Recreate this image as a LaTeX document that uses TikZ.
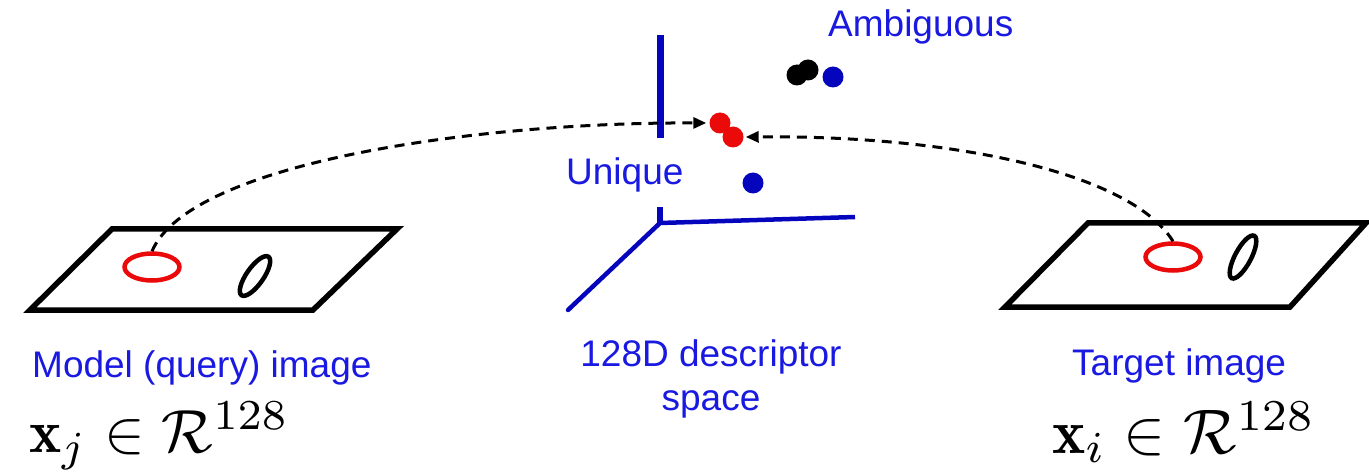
\documentclass[tikz,border=0pt]{standalone}
\usepackage{graphicx}
\usepackage{fontspec}
\setsansfont{Liberation Sans}
\usetikzlibrary{arrows.meta,shapes.geometric}
\definecolor{lblblue}{RGB}{25,25,225}
\definecolor{axblue}{RGB}{5,5,190}
\definecolor{dotred}{RGB}{235,10,10}
\tikzset{
  lbl/.style={text=lblblue,font=\sffamily\fontsize{37}{40}\selectfont,inner sep=0pt},
  plane/.style={draw=black,line width=5.5pt,line join=miter},
  feat/.style={ellipse,draw=dotred,line width=4.5pt,minimum width=55pt,minimum height=27pt,inner sep=0pt},
  digit/.style={draw=black,line width=4.5pt},
  axis/.style={draw=axblue,line width=4.5pt},
  pt/.style={circle,inner sep=0pt,minimum size=21pt},
  match/.style={line width=3pt,dash pattern=on 10pt off 7pt,-{Triangle[length=13pt,width=11pt]}}
}
\begin{document}
\begin{tikzpicture}[x=1pt,y=1pt]
\useasboundingbox (0,0) rectangle (1369,472);
% image planes
\draw[plane] (112,243) -- (397,243) -- (313,162) -- (30,162) -- cycle;
\draw[plane] (1088,249) -- (1366,249) -- (1290,165) -- (1005,165) -- cycle;
% features
\node[feat] (le) at (152,205) {};
\node[feat] (re) at (1173,215) {};
\draw[digit,rotate around={55:(255,196)}] (255,196) ellipse [x radius=23.5,y radius=8.5];
\draw[digit,rotate around={62:(1243,215)}] (1243,215) ellipse [x radius=24,y radius=8];
% axes
\coordinate (o) at (660,249);
\coordinate (ztop) at (660,437);
\coordinate (zmid) at (660,334);
\coordinate (zstub) at (660,265);
\coordinate (xend) at (855,255);
\coordinate (yend) at (568,162);
\draw[axis,line width=7pt] (ztop) -- (zmid);
\draw[axis,line width=6pt] (zstub) -- (o);
\draw[axis] (o) -- (xend);
\draw[axis,line cap=round] (o) -- (yend);
% points
\node[pt,fill=dotred] (rd1) at (720,349) {};
\node[pt,fill=dotred] (rd2) at (733,335) {};
\node[pt,fill=axblue] (bu) at (753,289) {};
\node[pt,fill=black] (bk1) at (797,397) {};
\node[pt,fill=black] (bk2) at (808,402) {};
\node[pt,fill=axblue] (ba) at (833,395) {};
% matches
\draw[match] (le.north) .. controls (190,310) and (480,350) .. ([xshift=-3pt]rd1.west);
\draw[match] (re.north) .. controls (1130,300) and (950,337) .. ([xshift=2pt]rd2.east);
% labels
\node[lbl,anchor=base west] (amb) at (828,435) {Ambiguous};
\node[lbl,anchor=base west] (uni) at (566,287) {Unique};
\node[lbl,anchor=base west] (model) at (32,95) {Model (query) image};
\node[lbl,anchor=base west] (target) at (1072,97) {Target image};
\node[lbl,align=center] (space) at (711,93) {128D descriptor\\[4pt]space};
\node[anchor=base west,inner sep=0pt] (xj) at (29,20)
  {\scalebox{6.1}{$\mathbf{x}_j\in\mathcal{R}^{128}$}};
\node[anchor=base west,inner sep=0pt] (xi) at (1052,19)
  {\scalebox{6.3}{$\mathbf{x}_i\in\mathcal{R}^{128}$}};
\end{tikzpicture}
\end{document}
